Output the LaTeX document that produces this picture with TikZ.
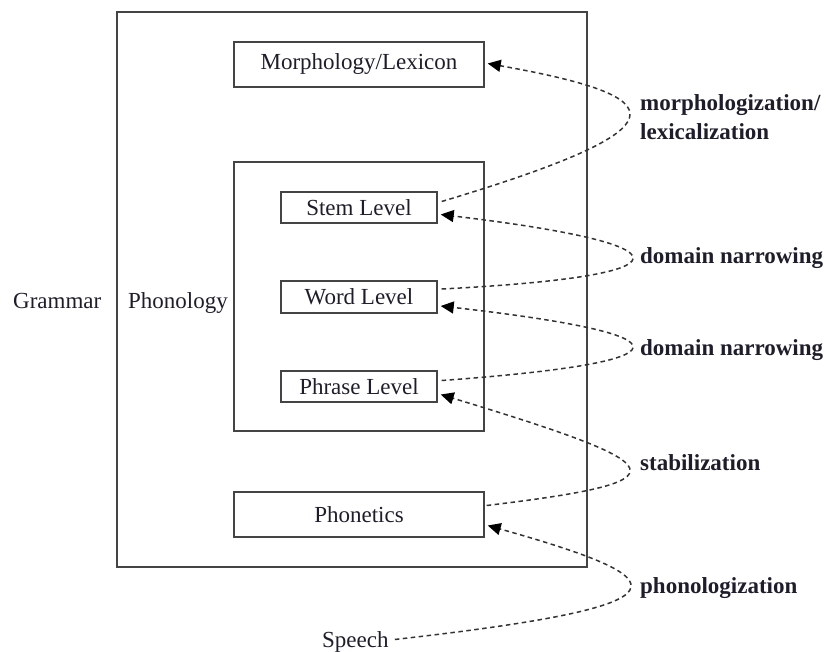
\documentclass[tikz,border=0pt]{standalone}
\usepackage{fontspec}
\setmainfont{Liberation Serif}
\usetikzlibrary{arrows.meta,calc}
\definecolor{linegray}{HTML}{444444}
\definecolor{dashcol}{HTML}{333333}
\definecolor{txt}{HTML}{1E1E2A}
\begin{document}
\begin{tikzpicture}[x=1pt,y=-1pt,
  box/.style={draw=linegray, line width=1.4pt, inner sep=0pt, font=\fontsize{23}{27}\selectfont, text=txt},
  lbl/.style={font=\fontsize{23}{27}\selectfont\bfseries, text=txt, anchor=base west, inner sep=0pt},
  plain/.style={font=\fontsize{23}{27}\selectfont, text=txt, anchor=base west, inner sep=0pt},
  conn/.style={draw=dashcol, line width=1.5pt, dash pattern=on 4.5pt off 3.5pt, -{Triangle[length=13pt,width=12pt,color=black,fill=black]}},
]
\useasboundingbox (0,0) rectangle (826,652);

\node[box, minimum width=470pt, minimum height=555pt] (gram) at (352,289.5) {};
\node[box, minimum width=250pt, minimum height=269pt] (phon) at (359,296.5) {};
\node[box, minimum width=250pt, minimum height=45pt] (morph) at (359,64.5) {Morphology/Lexicon};
\node[box, minimum width=156pt, minimum height=31pt] (stem) at (359,207.5) {Stem Level};
\node[box, minimum width=156pt, minimum height=32pt] (word) at (359,297) {Word Level};
\node[box, minimum width=156pt, minimum height=31pt] (phrase) at (359,386.5) {Phrase Level};
\node[box, minimum width=250pt, minimum height=45pt] (phonetics) at (359,514.5) {Phonetics};

\node[plain] (grammar) at (13,308) {Grammar};
\node[plain] (phonology) at (128,308) {Phonology};
\node[plain] (speech) at (322,647) {Speech};

\node[lbl] (l1a) at (640,111) {morphologization/};
\node[lbl] (l1b) at (640,140) {lexicalization};
\node[lbl] (l2) at (640,263) {domain narrowing};
\node[lbl] (l3) at (640,355) {domain narrowing};
\node[lbl] (l4) at (640,470) {stabilization};
\node[lbl] (l5) at (640,593) {phonologization};

\draw[conn] ($(stem.east)+(4,-6)$) .. controls (690,127) and (675,97) .. ($(morph.east)+(3,-1)$);
\draw[conn] ($(word.east)+(4,-8)$) .. controls (695,276) and (695,245) .. ($(stem.east)+(3,7)$);
\draw[conn] ($(phrase.east)+(4,-6)$) .. controls (695,362) and (695,335) .. ($(word.east)+(3,9)$);
\draw[conn] ($(phonetics.east)+(2,-9)$) .. controls (690,481) and (676,466) .. ($(phrase.east)+(3,8)$);
\draw[conn] ($(speech.east)+(6,-2)$) .. controls (700,605) and (681,580) .. ($(phonetics.east)+(3,11)$);
\end{tikzpicture}
\end{document}
